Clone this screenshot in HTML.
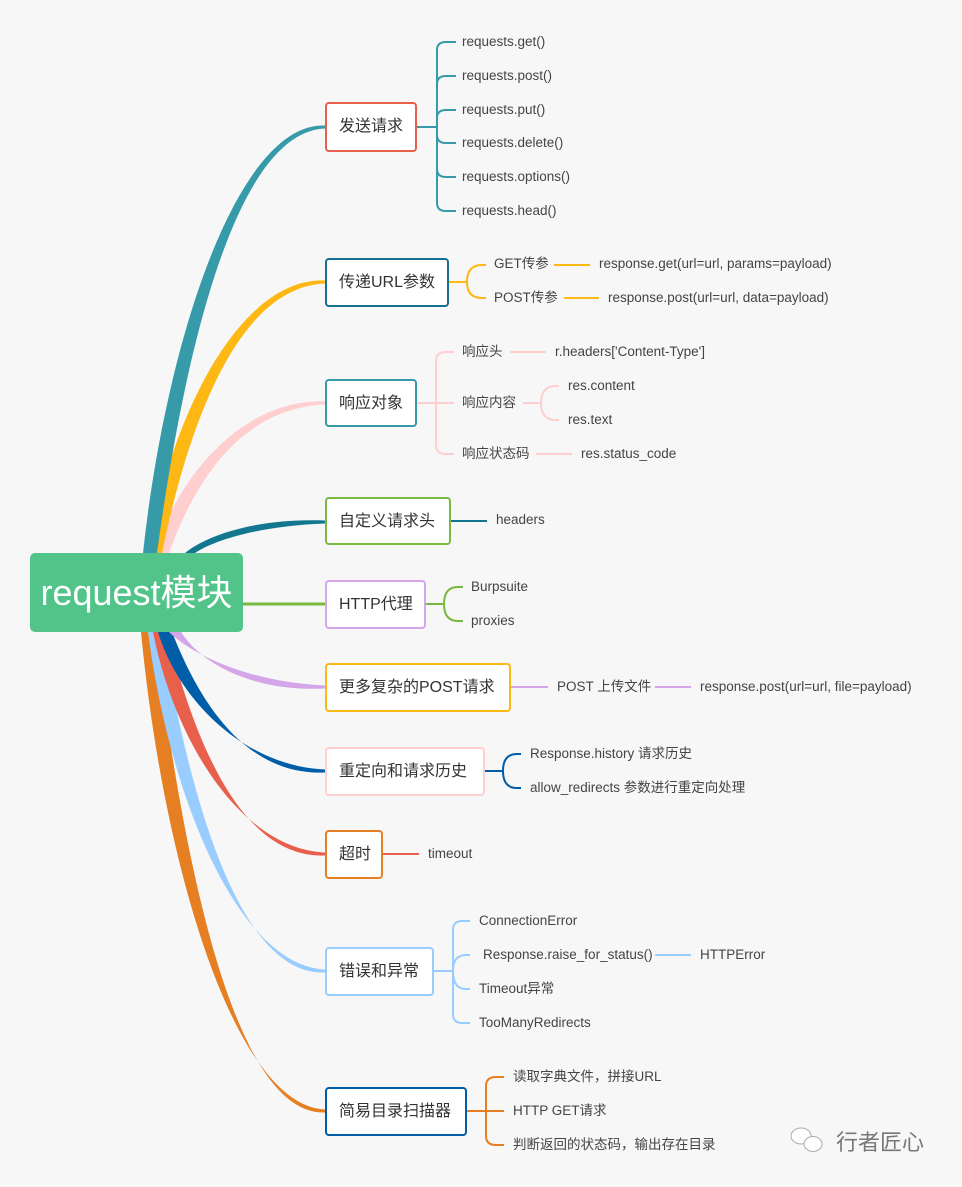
<!DOCTYPE html>
<html><head><meta charset="utf-8">
<style>
html,body{margin:0;padding:0;}
body{width:962px;height:1187px;background:#f7f7f7;position:relative;overflow:hidden;font-family:"Liberation Sans","Noto Sans CJK SC",sans-serif;}
svg{position:absolute;left:0;top:0;}
.b{position:absolute;left:325px;height:45px;background:#fff;border:2px solid;border-radius:4px;box-sizing:border-box;font-size:16px;color:#333;line-height:45px;padding-left:12px;white-space:nowrap;}
.t{position:absolute;font-size:13.5px;color:#444;line-height:18px;white-space:nowrap;}
</style></head><body>
<svg width="962" height="1187" viewBox="0 0 962 1187">
<g stroke="none">
<path fill="#e67e22" d="M141 632 C164 871,236 1106,325 1109.5 L325 1112.5 C236 1116,184 871,155 632Z"/>
<path fill="#99ccff" d="M148 632 C170 801,240 966,325 969.5 L325 972.5 C240 976,190 801,162 632Z"/>
<path fill="#e8604c" d="M153 632 C175 743,242 849,325 852.5 L325 855.5 C242 859,195 743,167 632Z"/>
<path fill="#005ea8" d="M158 632 C179 701,245 766,325 769.5 L325 772.5 C245 776,199 701,172 632Z"/>
<path fill="#d4a5e8" d="M169 632 C194 656,250 682,325 685.5 L325 688.5 C250 692,200 662,181 632Z"/>
<path fill="#13778f" d="M185 553 C207 535,257 518,325 520.5 L325 523.5 C257 526,213 541,195 553Z"/>
<path fill="#ffcfcf" d="M155 553 C176 478,243 398,325 401.5 L325 404.5 C243 408,196 478,169 553Z"/>
<path fill="#fdb813" d="M148 553 C170 417,240 277,325 280.5 L325 283.5 C240 287,190 417,162 553Z"/>
<path fill="#369aa9" d="M143 553 C166 340,238 122,325 125.5 L325 128.5 C238 132,186 340,157 553Z"/>
</g>
<line x1="243" y1="604" x2="325" y2="604" stroke="#7ab940" stroke-width="3"/>
<g fill="none" stroke-width="2">
<g stroke="#369aa9">
<path d="M417 127 L437 127"/>
<path d="M437 127 L437 50 Q437 42 446 42 L456 42"/>
<path d="M437 127 L437 84 Q437 76 446 76 L456 76"/>
<path d="M437 127 L437 118 Q437 110 446 110 L456 110"/>
<path d="M437 127 L437 135 Q437 143 446 143 L456 143"/>
<path d="M437 127 L437 169 Q437 177 446 177 L456 177"/>
<path d="M437 127 L437 203 Q437 211 446 211 L456 211"/>
</g>
<g stroke="#fdb813">
<path d="M449 282 L467 282"/>
<path d="M467 282 Q467 265 482 265 L486 265"/>
<path d="M467 282 Q467 298 482 298 L486 298"/>
<path d="M554 265 L590 265"/>
<path d="M564 298 L599 298"/>
</g>
<g stroke="#ffcfcf">
<path d="M417 403 L436 403"/>
<path d="M436 403 L436 361 Q436 352 446 352 L454 352"/>
<path d="M436 403 L454 403"/>
<path d="M436 403 L436 445 Q436 454 446 454 L454 454"/>
<path d="M510 352 L546 352"/>
<path d="M523 403 L541 403"/>
<path d="M541 403 Q541 386 556 386 L559 386"/>
<path d="M541 403 Q541 420 556 420 L559 420"/>
<path d="M536 454 L572 454"/>
</g>
<path stroke="#13778f" d="M451 521 L487 521"/>
<g stroke="#7ab940">
<path d="M426 604 L444 604"/>
<path d="M444 604 Q444 587 458 587 L463 587"/>
<path d="M444 604 Q444 621 458 621 L463 621"/>
</g>
<g stroke="#d4a5e8">
<path d="M511 687 L548 687"/>
<path d="M655 687 L691 687"/>
</g>
<g stroke="#005ea8">
<path d="M485 771 L503 771"/>
<path d="M503 771 Q503 754 517 754 L521 754"/>
<path d="M503 771 Q503 788 517 788 L521 788"/>
</g>
<path stroke="#e8604c" d="M383 854 L419 854"/>
<g stroke="#99ccff">
<path d="M434 971 L453 971"/>
<path d="M453 971 L453 930 Q453 921 462 921 L470 921"/>
<path d="M453 971 Q453 955 466 955 L470 955"/>
<path d="M453 971 Q453 989 466 989 L470 989"/>
<path d="M453 971 L453 1014 Q453 1023 462 1023 L470 1023"/>
<path d="M655 955 L691 955"/>
</g>
<g stroke="#e67e22">
<path d="M467 1111 L486 1111"/>
<path d="M486 1111 L486 1086 Q486 1077 496 1077 L504 1077"/>
<path d="M486 1111 L504 1111"/>
<path d="M486 1111 L486 1136 Q486 1145 496 1145 L504 1145"/>
</g>
</g>
<g fill="#fff" stroke="#aaa" stroke-width="1">
<ellipse cx="801" cy="1136" rx="10" ry="8"/>
<ellipse cx="813" cy="1144" rx="9" ry="7.5"/>
</g>
</svg>

<div style="position:absolute;left:30px;top:553px;width:213px;height:79px;background:#52c48a;border-radius:5px;color:#fff;font-size:36px;line-height:79px;text-align:center;">request模块</div>

<div class="b" style="top:102px;width:92px;height:50px;line-height:46px;border-color:#e8604c">发送请求</div>
<div class="b" style="top:258px;width:124px;height:49px;border-color:#15718f">传递URL参数</div>
<div class="b" style="top:379px;width:92px;height:48px;border-color:#369aa9">响应对象</div>
<div class="b" style="top:497px;width:126px;height:48px;border-color:#7ab940">自定义请求头</div>
<div class="b" style="top:580px;width:101px;height:49px;border-color:#d4a5e8">HTTP代理</div>
<div class="b" style="top:663px;width:186px;height:49px;border-color:#fdb813">更多复杂的POST请求</div>
<div class="b" style="top:747px;width:160px;height:49px;border-color:#ffcfcf">重定向和请求历史</div>
<div class="b" style="top:830px;width:58px;height:49px;border-color:#e67e22">超时</div>
<div class="b" style="top:947px;width:109px;height:49px;border-color:#99ccff">错误和异常</div>
<div class="b" style="top:1087px;width:142px;height:49px;border-color:#005ea8">简易目录扫描器</div>

<div class="t" style="left:462px;top:33px">requests.get()</div>
<div class="t" style="left:462px;top:67px">requests.post()</div>
<div class="t" style="left:462px;top:101px">requests.put()</div>
<div class="t" style="left:462px;top:134px">requests.delete()</div>
<div class="t" style="left:462px;top:168px">requests.options()</div>
<div class="t" style="left:462px;top:202px">requests.head()</div>

<div class="t" style="left:494px;top:255px">GET传参</div>
<div class="t" style="left:599px;top:255px">response.get(url=url, params=payload)</div>
<div class="t" style="left:494px;top:289px">POST传参</div>
<div class="t" style="left:608px;top:289px">response.post(url=url, data=payload)</div>

<div class="t" style="left:462px;top:343px">响应头</div>
<div class="t" style="left:555px;top:343px">r.headers['Content-Type']</div>
<div class="t" style="left:462px;top:394px">响应内容</div>
<div class="t" style="left:568px;top:377px">res.content</div>
<div class="t" style="left:568px;top:411px">res.text</div>
<div class="t" style="left:462px;top:445px">响应状态码</div>
<div class="t" style="left:581px;top:445px">res.status_code</div>

<div class="t" style="left:496px;top:511px">headers</div>
<div class="t" style="left:471px;top:578px">Burpsuite</div>
<div class="t" style="left:471px;top:612px">proxies</div>

<div class="t" style="left:557px;top:678px">POST 上传文件</div>
<div class="t" style="left:700px;top:678px">response.post(url=url, file=payload)</div>

<div class="t" style="left:530px;top:745px">Response.history 请求历史</div>
<div class="t" style="left:530px;top:779px">allow_redirects 参数进行重定向处理</div>

<div class="t" style="left:428px;top:845px">timeout</div>

<div class="t" style="left:479px;top:912px">ConnectionError</div>
<div class="t" style="left:483px;top:946px">Response.raise_for_status()</div>
<div class="t" style="left:700px;top:946px">HTTPError</div>
<div class="t" style="left:479px;top:980px">Timeout异常</div>
<div class="t" style="left:479px;top:1014px">TooManyRedirects</div>

<div class="t" style="left:513px;top:1068px">读取字典文件，拼接URL</div>
<div class="t" style="left:513px;top:1102px">HTTP GET请求</div>
<div class="t" style="left:513px;top:1136px">判断返回的状态码，输出存在目录</div>

<div style="position:absolute;left:836px;top:1127px;font-size:22px;line-height:28px;color:#777;font-family:'Noto Sans CJK SC',sans-serif;">行者匠心</div>
</body></html>
